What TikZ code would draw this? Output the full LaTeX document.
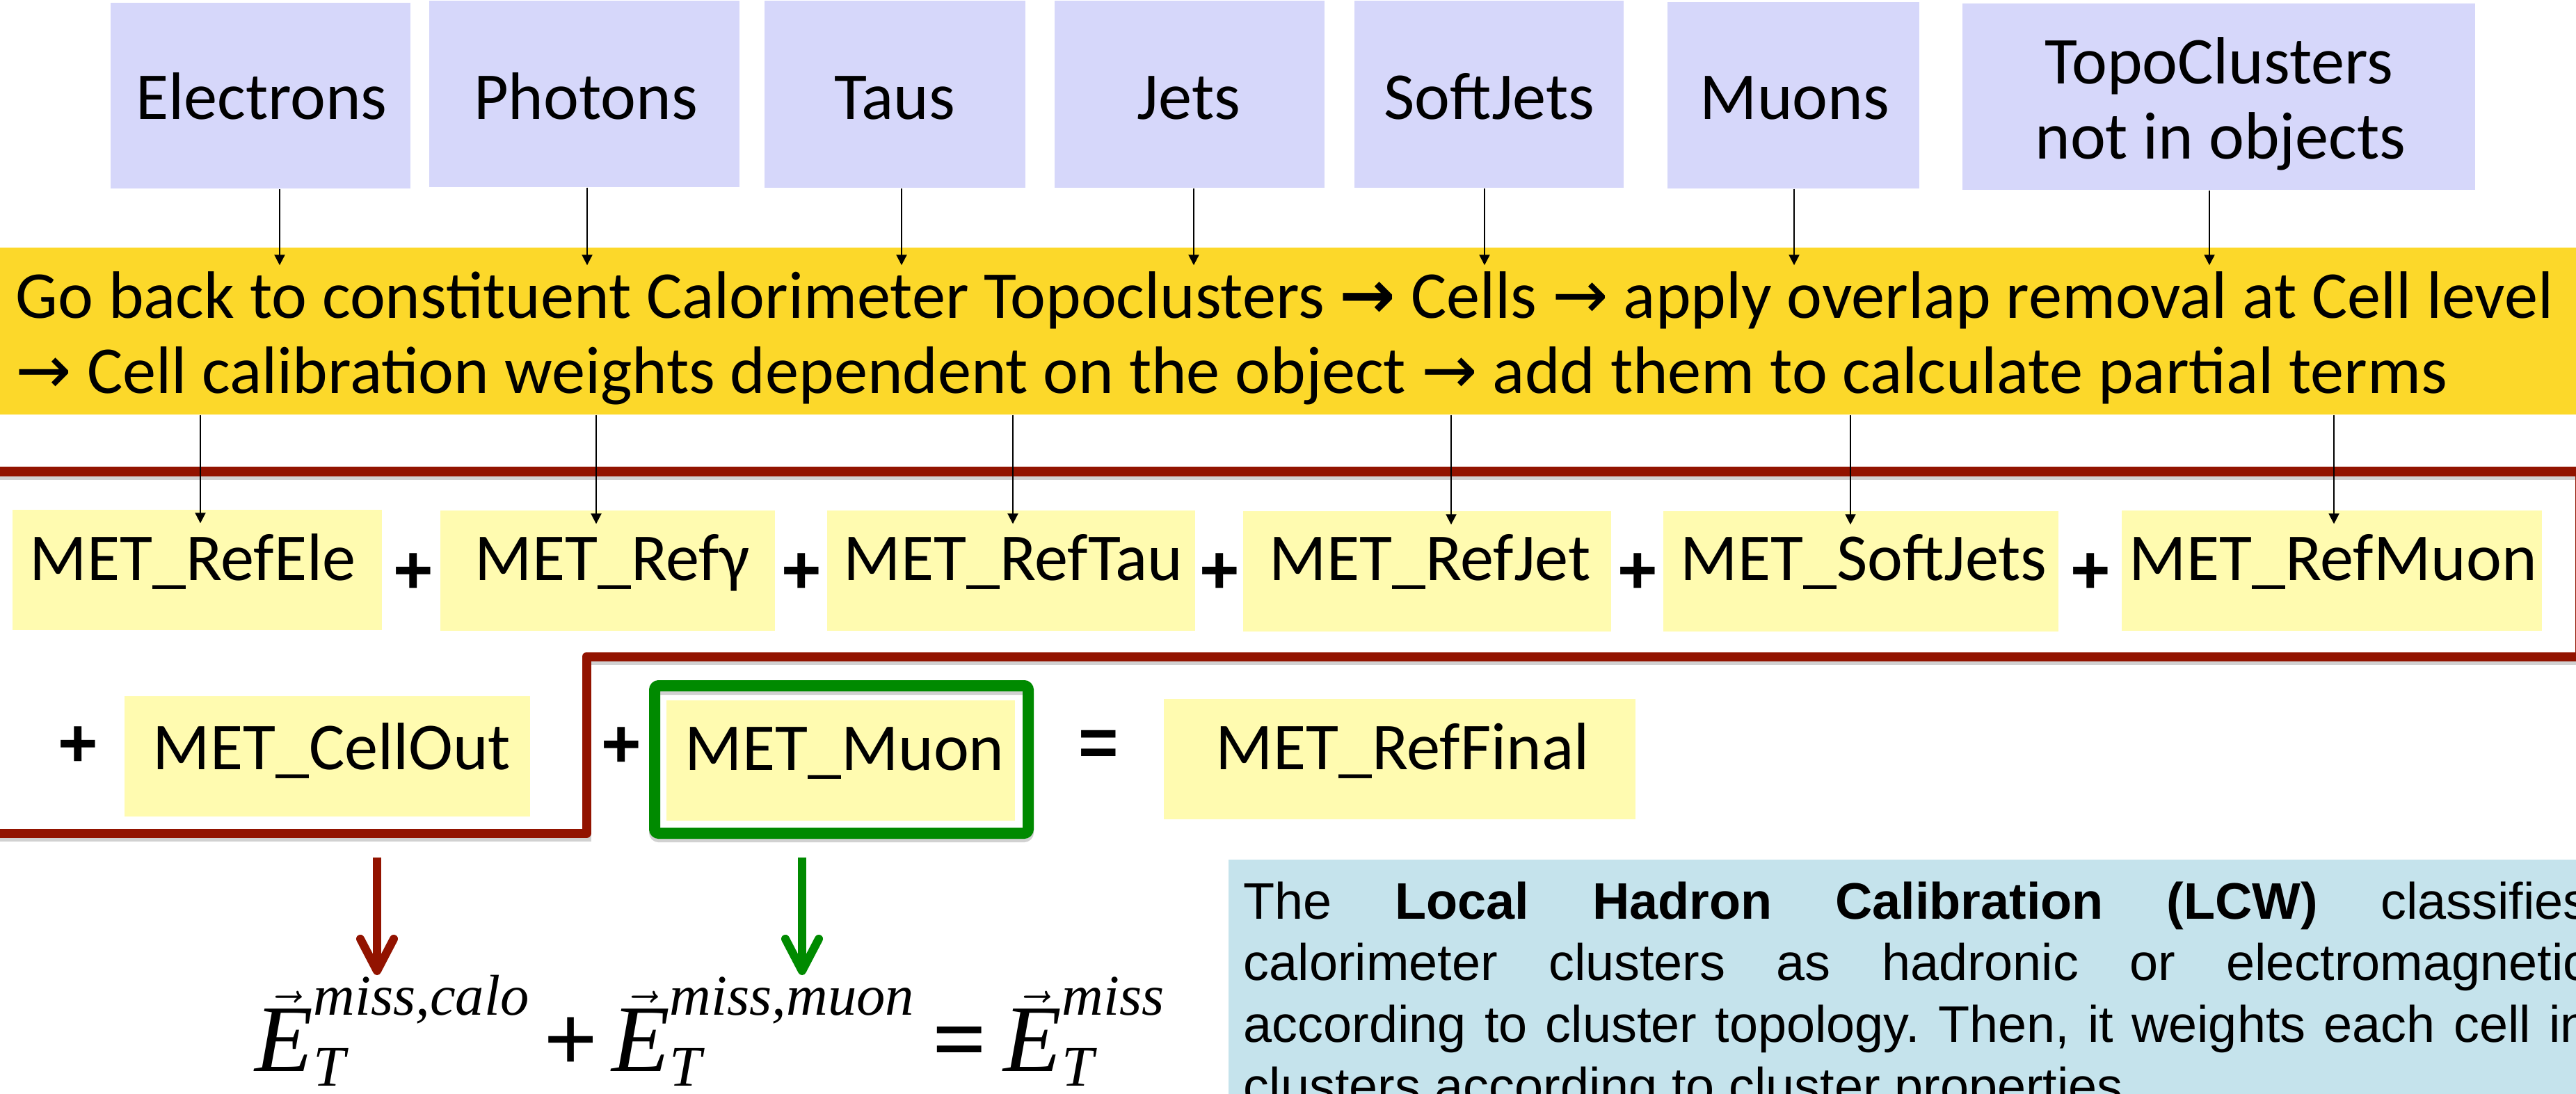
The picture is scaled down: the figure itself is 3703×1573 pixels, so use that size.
\documentclass[tikz,border=0pt]{standalone}
\usepackage{fontspec}
\usepackage{amsmath}
\usetikzlibrary{arrows.meta,fit}
\setmainfont{Carlito}
\newfontfamily\dvs{DejaVu Sans}
\newfontfamily\arialf{Liberation Sans}
\newfontfamily\tmsf{Liberation Serif}
\newcommand\bigE{\vec{\hbox{\tmsf\itshape\fontsize{39}{40}\selectfont E}}}
\newcommand\scr[1]{\hbox{\tmsf\itshape\fontsize{23.5}{24}\selectfont #1}}
\definecolor{lav}{RGB}{214,215,250}
\definecolor{bann}{RGB}{252,216,42}
\definecolor{ybox}{RGB}{255,251,176}
\definecolor{bbox}{RGB}{197,227,236}
\definecolor{dred}{RGB}{146,19,0}
\definecolor{grn}{RGB}{0,138,0}
\begin{document}
\begin{tikzpicture}[x=0.01cm,y=-0.01cm,
  lavbox/.style={fill=lav,inner sep=0},
  ylbox/.style={fill=ybox,inner sep=0},
  txt/.style={inner sep=0,font=\fontsize{27.4}{32}\selectfont},
  opsign/.style={inner sep=0,font=\arialf\bfseries\fontsize{28}{30}\selectfont},
  thinarr/.style={line width=0.02cm,-{Triangle[length=0.15cm,width=0.15cm]}},
  bigarr/.style={line width=0.12cm,-{Straight Barb[length=0.46cm,width=0.48cm,round]}},
  redline/.style={draw=dred,line width=0.13cm,
    preaction={draw=black,opacity=0.18,line width=0.13cm,transform canvas={yshift=-0.05cm}}},
]
\useasboundingbox (0,0) rectangle (3703,1573);
\fill[white] (0,0) rectangle (3703,1573);

% top boxes
\node[lavbox,fit={(159,4) (590,271)}] (electrons) {};
\node[lavbox,fit={(617,1) (1063,269)}] (photons) {};
\node[lavbox,fit={(1099,1) (1474,270)}] (taus) {};
\node[lavbox,fit={(1516,1) (1904,270)}] (jets) {};
\node[lavbox,fit={(1947,1) (2334,270)}] (softjets) {};
\node[lavbox,fit={(2397,3) (2759,271)}] (muons) {};
\node[lavbox,fit={(2821,5) (3558,273)}] (topo) {};
\node[txt,anchor=base] (electronsT) at (376,172) {Electrons};
\node[txt,anchor=base] (photonsT) at (842,172) {Photons};
\node[txt,anchor=base] (tausT) at (1286,172) {Taus};
\node[txt,anchor=base] (jetsT) at (1709,172) {Jets};
\node[txt,anchor=base] (softjetsT) at (2141,172) {SoftJets};
\node[txt,anchor=base] (muonsT) at (2580,172) {Muons};
\node[txt,anchor=base] (topoT1) at (3190,121) {TopoClusters};
\node[txt,anchor=base] (topoT2) at (3192,229) {not in objects};

% banner
\node[fill=bann,inner sep=0,fit={(0,356) (3703,596)}] (banner) {};
\node[txt,anchor=base west] (line1) at (22,458) {Go back to constituent Calorimeter Topoclusters {\dvs\bfseries →} Cells {\dvs →} apply overlap removal at Cell level};
\node[txt,anchor=base west] (line2) at (22,565) {{\dvs →} Cell calibration weights dependent on the object {\dvs →} add them to calculate partial terms};

\foreach \n/\x in {electrons/402,photons/844,taus/1296,jets/1716,softjets/2134,muons/2579,topo/3176}
  \draw[thinarr,shorten >=-0.26cm] (\x,0 |- \n.south) -- (\x,0 |- banner.north);

% red outline
\draw[redline,line join=round] (-30,678) -- (3708,678) -- (3708,944) -- (843,944) -- (843,1198) -- (-30,1198);

% row 1
\node[ylbox,fit={(18,733) (549,906)}] (refele) {};
\node[ylbox,fit={(633,734) (1114,907)}] (refgam) {};
\node[ylbox,fit={(1189,734) (1718,907)}] (reftau) {};
\node[ylbox,fit={(1787,735) (2316,908)}] (refjet) {};
\node[ylbox,fit={(2391,735) (2959,908)}] (softj) {};
\node[ylbox,fit={(3050,734) (3654,907)}] (refmuon) {};
\node[txt,anchor=base west] (refeleT) at (42,834) {MET\_RefEle};
\node[txt,anchor=base west] (refgamT) at (682,834) {MET\_Refγ};
\node[txt,anchor=base west] (reftauT) at (1212,834) {MET\_RefTau};
\node[txt,anchor=base west] (refjetT) at (1824,834) {MET\_RefJet};
\node[txt,anchor=base west] (softjT) at (2415,834) {MET\_SoftJets};
\node[txt,anchor=base west] (refmuonT) at (3060,834) {MET\_RefMuon};
\node[opsign] (p1) at (594,825) {+};
\node[opsign] (p2) at (1152,825) {+};
\node[opsign] (p3) at (1753,825) {+};
\node[opsign] (p4) at (2354,825) {+};
\node[opsign] (p5) at (3005,825) {+};

\foreach \n/\x in {refele/288,refgam/857,reftau/1456,refjet/2086,softj/2660,refmuon/3355}
  \draw[thinarr,shorten >=-0.20cm] (\x,0 |- banner.south) -- (\x,0 |- \n.north);

% row 2
\node[opsign] (p6) at (112,1074) {+};
\node[ylbox,fit={(179,1001) (762,1174)}] (cellout) {};
\node[txt,anchor=base west] (celloutT) at (219,1106) {MET\_CellOut};
\node[opsign] (p7) at (893,1075) {+};
\node[draw=grn,line width=0.16cm,rounded corners=0.06cm,inner sep=0,fit={(941,986) (1478,1198)},
  preaction={draw=black,opacity=0.18,transform canvas={yshift=-0.05cm}}] (greenbox) {};
\node[ylbox,fit={(958,1007) (1459,1180)}] (muonbox) {};
\node[txt,anchor=base west] (muonT) at (984,1107) {MET\_Muon};
\node[opsign] (eq) at (1579,1076) {=};
\node[ylbox,fit={(1673,1005) (2351,1178)}] (reffinal) {};
\node[txt,anchor=base west] (reffinalT) at (1747,1106) {MET\_RefFinal};

% formula
\node[anchor=base west,inner sep=0,font=\fontsize{39}{44}\selectfont] (formula) at (366,1540)
  {$\bigE_{\scr{T}}^{\scr{miss,calo}} \mathbin{\hbox{\tmsf\bfseries +}} \bigE_{\scr{T}}^{\scr{miss,muon}} \mathrel{\hbox{\tmsf\bfseries =}} \bigE_{\scr{T}}^{\scr{miss}}$};
\coordinate (calotip) at (542,1402);
\coordinate (muontip) at (1153,1402);
\draw[bigarr,draw=dred,shorten <=0.58cm] (542,0 |- cellout.south) -- (calotip);
\draw[bigarr,draw=grn,shorten <=0.52cm] (1153,0 |- muonbox.south) -- (muontip);

% blue box
\node[fill=bbox,inner sep=0,fit={(1766,1236) (3760,1620)}] (lcwbox) {};
\node[anchor=base west,inner sep=0,text width=19.33cm,align=justify,
  font=\arialf\fontsize{21}{25.3}\selectfont\frenchspacing] (lcw) at (1787,1321)
  {The \textbf{Local Hadron Calibration (LCW)} classifies\linebreak calorimeter clusters as hadronic or electromagnetic\linebreak according to cluster topology. Then, it weights each cell in\linebreak clusters according to cluster properties.};
\end{tikzpicture}
\end{document}
